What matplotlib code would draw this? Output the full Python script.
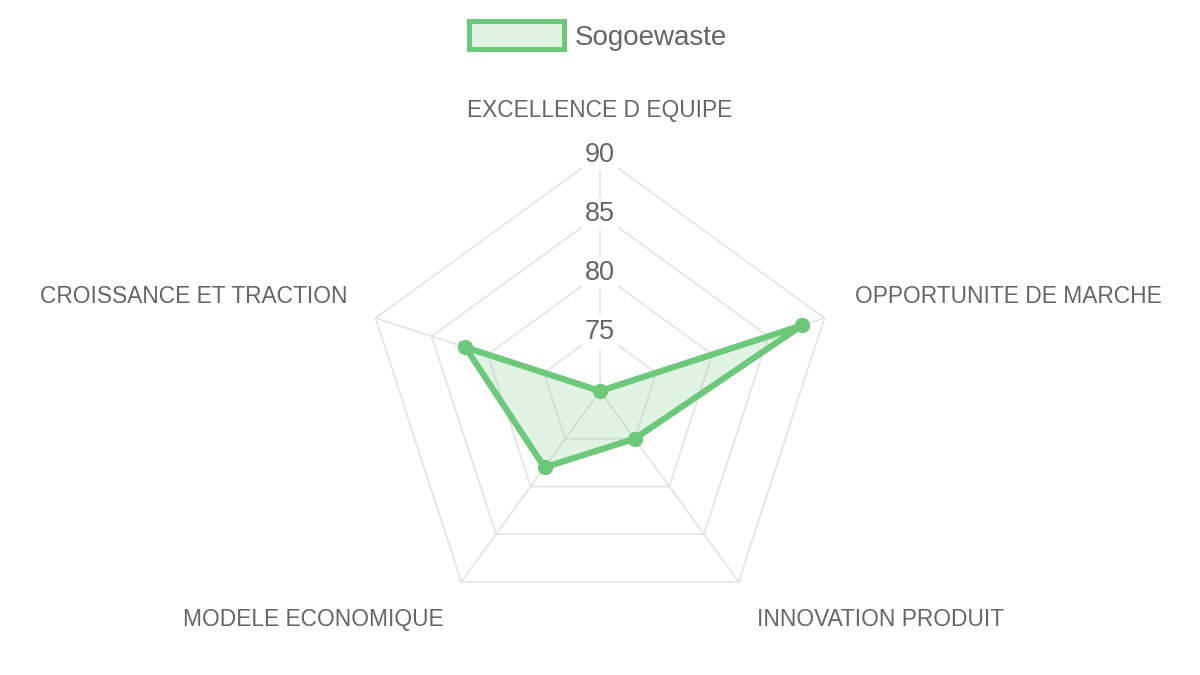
import numpy as np
import matplotlib
matplotlib.use("Agg")
import matplotlib.pyplot as plt
from matplotlib.patches import Patch

categories = ["EXCELLENCE D EQUIPE", "OPPORTUNITE DE MARCHE", "INNOVATION PRODUIT",
              "MODELE ECONOMIQUE", "CROISSANCE ET TRACTION"]
series_name = "Sogoewaste"
values = [70, 88, 75, 78, 82]
ticks = [75, 80, 85, 90]
r_min, r_max = 70, 90

plt.rcParams['font.family'] = ['Liberation Sans', 'DejaVu Sans']
line_color = '#6cc87a'
fill_color = (108/255, 200/255, 122/255, 0.2)
grid_color = '#e4e4e4'
text_color = '#666666'

W, H, dpi = 1200, 675, 100
fig = plt.figure(figsize=(W/dpi, H/dpi), dpi=dpi)
cx, cy, R = 600, 675 - 391, 236
ax = fig.add_axes([(cx - R)/W, (cy - R)/H, 2*R/W, 2*R/H], projection='polar')
ax.set_theta_offset(np.pi/2)
ax.set_theta_direction(-1)
ax.set_ylim(r_min, r_max)
ax.axis('off')

n = len(categories)
angles = np.linspace(0, 2*np.pi, n, endpoint=False)
closed = np.concatenate([angles, angles[:1]])

# polygon grid
for t in ticks:
    ax.plot(closed, [t]*(n+1), color=grid_color, lw=1.2, zorder=1, clip_on=False)
for a in angles:
    ax.plot([a, a], [r_min, r_max], color=grid_color, lw=1.2, zorder=1, clip_on=False)

vals = np.array(values + values[:1], dtype=float)
ax.fill(closed, vals, color=fill_color, zorder=2, lw=0)
ax.plot(closed, vals, color=line_color, lw=4.5, zorder=3, solid_joinstyle='miter', clip_on=False)
ax.plot(angles, values, 'o', color=line_color, ms=10, zorder=4, clip_on=False)

# tick labels
for t in ticks:
    ax.text(0, t, str(t), ha='center', va='center', fontsize=19.5, color=text_color,
            zorder=5, bbox=dict(boxstyle='square,pad=0.1', fc='white', ec='none'))

# point labels
offsets = [(0, 44, 'center'), (31, 22, 'left'), (18, -38, 'left'),
           (-18, -38, 'right'), (-28, 22, 'right')]
for a, lab, (dx, dy, ha) in zip(angles, categories, offsets):
    ax.annotate(lab, xy=(a, r_max), xytext=(dx, dy), textcoords='offset pixels',
                ha=ha, va='center', fontsize=16.4, color=text_color, annotation_clip=False)

handle = Patch(facecolor=fill_color, edgecolor=line_color, linewidth=3.6)
leg = fig.legend([handle], [series_name], loc='center', bbox_to_anchor=(598/W, 1 - 36/H),
                 frameon=False, fontsize=20, handlelength=3.4, handleheight=1.15,
                 handletextpad=0.4, borderpad=0)
for t in leg.get_texts():
    t.set_color(text_color)

fig.savefig('out.png', dpi=dpi, facecolor='white')
